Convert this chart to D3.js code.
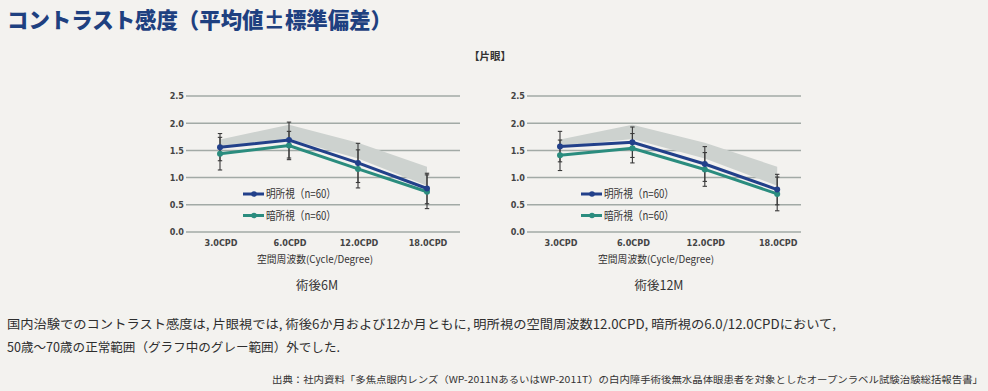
<!DOCTYPE html>
<html><head><meta charset="utf-8">
<script src="https://cdn.jsdelivr.net/npm/d3@7"></script>
<style>
html,body{margin:0;padding:0;background:#f3f2ef;}
svg{display:block;}
</style></head>
<body>
<svg id="c" width="988" height="391"></svg>
<script>
// ---- data ----
const categories = ["3.0CPD", "6.0CPD", "12.0CPD", "18.0CPD"];
const yTicks = [0, 0.5, 1.0, 1.5, 2.0, 2.5];
const seriesNames = ["明所視（n=60）", "暗所視（n=60）"];
const panelTitles = ["術後6M", "術後12M"];

const photopic6M = [1.56, 1.69, 1.27, 0.80];
const photopic6MSD = [0.25, 0.33, 0.36, 0.28];
const mesopic6M = [1.44, 1.59, 1.16, 0.74];
const mesopic6MSD = [0.30, 0.26, 0.35, 0.31];

const photopic12M = [1.57, 1.65, 1.25, 0.78];
const photopic12MSD = [0.28, 0.28, 0.32, 0.28];
const mesopic12M = [1.41, 1.54, 1.15, 0.70];
const mesopic12MSD = [0.28, 0.27, 0.31, 0.31];

const normalUpper = [1.70, 1.97, 1.64, 1.20];
const normalLower = [1.57, 1.71, 1.35, 0.85];

// ---- drawing ----
const svg = d3.select("#c");
const BLUE = "#22408a", TEAL = "#2a8c7e", GRID = "#a2aaa6", BAND = "#cdd2cf";
const JP = "'Noto Sans CJK JP','Noto Sans',sans-serif";
const NARROW = "'Liberation Sans Narrow','DejaVu Sans Condensed',sans-serif";

svg.append("text").attr("x", 7).attr("y", 28)
  .attr("font-family", JP).attr("font-weight", 900).attr("font-size", 21.5)
  .attr("fill", "#1e4080").attr("textLength", 385).attr("lengthAdjust", "spacingAndGlyphs")
  .text("コントラスト感度（平均値±標準偏差）");

svg.append("text").attr("x", 490).attr("y", 60).attr("text-anchor", "middle")
  .attr("font-family", JP).attr("font-weight", 700).attr("font-size", 10.5)
  .attr("fill", "#333").text("【片眼】");

const panels = [
  {gx0: 186, gx1: 460, xr: [185.5, 461.5], legX: 243, axisTitleX: 315, titleX: 317,
   series: [[photopic6M, photopic6MSD], [mesopic6M, mesopic6MSD]], title: panelTitles[0]},
  {gx0: 527, gx1: 801, xr: [523.8, 813.4], legX: 581, axisTitleX: 656, titleX: 659,
   series: [[photopic12M, photopic12MSD], [mesopic12M, mesopic12MSD]], title: panelTitles[1]}
];
const colors = [BLUE, TEAL];

panels.forEach(p => {
  const g = svg.append("g");
  const y = d3.scaleLinear().domain([0, 2.5]).range([232, 96]);
  const x = d3.scaleBand().domain(categories).range(p.xr).padding(0);
  const cx = c => x(c) + x.bandwidth() / 2;

  // grid
  g.selectAll("line.grid").data(yTicks).join("line")
    .attr("x1", p.gx0).attr("x2", p.gx1)
    .attr("y1", d => y(d)).attr("y2", d => y(d))
    .attr("stroke", GRID).attr("stroke-width", 1.5);

  // y tick labels
  g.selectAll("text.yt").data(yTicks).join("text")
    .attr("x", p.gx0 - 2).attr("y", d => y(d) + 3.4).attr("text-anchor", "end")
    .attr("font-family", NARROW).attr("font-weight", 700).attr("font-size", 9)
    .attr("fill", "#444").text(d => d.toFixed(1));

  // x tick labels via axis
  const xa = g.append("g").attr("transform", "translate(0,240)")
    .call(d3.axisBottom(x).tickSize(0).tickPadding(0));
  xa.select(".domain").remove();
  xa.selectAll("text").attr("font-family", NARROW).attr("font-weight", 700)
    .attr("font-size", 9).attr("fill", "#444").attr("dx", 1);

  // axis title
  g.append("text").attr("x", p.axisTitleX).attr("y", 263).attr("text-anchor", "middle")
    .attr("font-family", JP).attr("font-size", 10).attr("fill", "#333")
    .attr("textLength", 116).attr("lengthAdjust", "spacingAndGlyphs")
    .text("空間周波数(Cycle/Degree)");

  // panel title
  g.append("text").attr("x", p.titleX).attr("y", 290).attr("text-anchor", "middle")
    .attr("font-family", JP).attr("font-size", 12.5).attr("fill", "#333")
    .text(p.title);

  // normal range band
  const area = d3.area().x((d, i) => cx(categories[i]))
    .y0((d, i) => y(normalLower[i])).y1(d => y(d));
  g.append("path").datum(normalUpper).attr("d", area).attr("fill", BAND);

  // error bars
  p.series.forEach(([vals, sds]) => {
    vals.forEach((v, i) => {
      const xx = cx(categories[i]);
      g.append("line").attr("x1", xx).attr("x2", xx)
        .attr("y1", y(v + sds[i])).attr("y2", y(v - sds[i]))
        .attr("stroke", "#3a3a3a").attr("stroke-width", 1.1);
      [v + sds[i], v - sds[i]].forEach(e => {
        g.append("line").attr("x1", xx - 2.2).attr("x2", xx + 2.2)
          .attr("y1", y(e)).attr("y2", y(e))
          .attr("stroke", "#3a3a3a").attr("stroke-width", 1.1);
      });
    });
  });

  // lines & markers (draw teal first, blue on top)
  [1, 0].forEach(k => {
    const vals = p.series[k][0];
    const line = d3.line().x((d, i) => cx(categories[i])).y(d => y(d));
    g.append("path").datum(vals).attr("d", line).attr("fill", "none")
      .attr("stroke", colors[k]).attr("stroke-width", 3);
    g.selectAll(null).data(vals).join("circle")
      .attr("cx", (d, i) => cx(categories[i])).attr("cy", d => y(d)).attr("r", 3)
      .attr("fill", colors[k]);
  });

  // legend
  seriesNames.forEach((name, k) => {
    const ly = 194 + k * 21.5;
    g.append("line").attr("x1", p.legX).attr("x2", p.legX + 21)
      .attr("y1", ly).attr("y2", ly).attr("stroke", colors[k]).attr("stroke-width", 3);
    g.append("circle").attr("cx", p.legX + 11).attr("cy", ly).attr("r", 2.8).attr("fill", colors[k]);
    g.append("text").attr("x", p.legX + 23).attr("y", ly + 4.2)
      .attr("font-family", JP).attr("font-size", 11.5).attr("fill", "#333")
      .attr("textLength", 70).attr("lengthAdjust", "spacingAndGlyphs").text(name);
  });
});

// body text
svg.append("text").attr("x", 7).attr("y", 329)
  .attr("font-family", JP).attr("font-size", 12.5).attr("fill", "#2e2e2e")
  .attr("textLength", 829).attr("lengthAdjust", "spacingAndGlyphs")
  .text("国内治験でのコントラスト感度は, 片眼視では, 術後6か月および12か月ともに, 明所視の空間周波数12.0CPD, 暗所視の6.0/12.0CPDにおいて,");
svg.append("text").attr("x", 7).attr("y", 352)
  .attr("font-family", JP).attr("font-size", 12.5).attr("fill", "#2e2e2e")
  .attr("textLength", 333).attr("lengthAdjust", "spacingAndGlyphs")
  .text("50歳～70歳の正常範囲（グラフ中のグレー範囲）外でした.");
svg.append("text").attr("x", 983).attr("y", 383).attr("text-anchor", "end")
  .attr("font-family", JP).attr("font-size", 9.5).attr("fill", "#333")
  .attr("textLength", 711).attr("lengthAdjust", "spacingAndGlyphs")
  .text("出典：社内資料「多焦点眼内レンズ（WP-2011NあるいはWP-2011T）の白内障手術後無水晶体眼患者を対象としたオープンラベル試験治験総括報告書」");
</script>
</body></html>
